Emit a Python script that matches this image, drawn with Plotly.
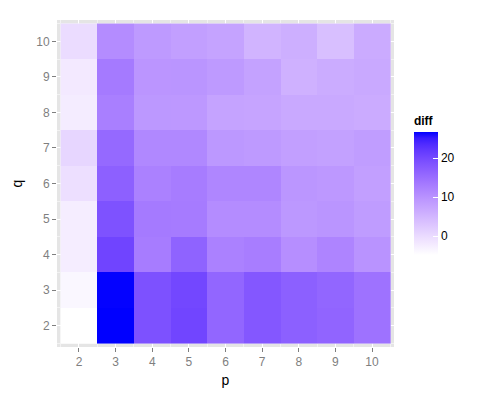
import numpy as np
import plotly.graph_objects as go

# p en q waarden (kolommen / rijen)
p_vals = [2, 3, 4, 5, 6, 7, 8, 9, 10]
q_vals = [2, 3, 4, 5, 6, 7, 8, 9, 10]

# diff per rij q (van q=2 tot q=10), kolommen p=2..10
diff_q2 = [-4.7, 26.8, 19.0, 20.5, 16.2, 18.2, 17.0, 16.4, 14.5]
diff_q3 = [-3.6, 26.7, 19.1, 20.2, 16.2, 18.2, 17.0, 16.2, 14.5]
diff_q4 = [-2.4, 20.6, 13.1, 16.6, 12.5, 13.0, 10.6, 12.0, 10.0]
diff_q5 = [-2.3, 18.9, 13.4, 13.3, 10.9, 10.9, 9.4, 9.8, 8.8]
diff_q6 = [-0.4, 16.9, 12.5, 13.1, 11.8, 11.8, 9.6, 9.3, 8.3]
diff_q7 = [0.8, 15.8, 11.5, 11.5, 9.4, 9.0, 8.3, 8.0, 8.6]
diff_q8 = [-2.2, 12.8, 9.4, 9.3, 7.7, 7.6, 6.9, 6.9, 6.6]
diff_q9 = [-1.8, 13.4, 9.7, 9.8, 9.1, 7.9, 5.8, 6.5, 6.9]
diff_q10 = [0.0, 10.9, 9.1, 8.3, 7.7, 5.4, 6.1, 3.9, 6.6]

z = [diff_q2, diff_q3, diff_q4, diff_q5, diff_q6, diff_q7, diff_q8, diff_q9, diff_q10]

colorbar_ticks = [0, 10, 20]


# Kleurschaal wit -> blauw, geinterpoleerd in Lab (zoals ggplot)
def srgb_to_lab(rgb):
    c = np.array(rgb) / 255.0
    c = np.where(c > 0.04045, ((c + 0.055) / 1.055) ** 2.4, c / 12.92)
    m = np.array([[0.4124, 0.3576, 0.1805],
                  [0.2126, 0.7152, 0.0722],
                  [0.0193, 0.1192, 0.9505]])
    xyz = m @ c / np.array([0.95047, 1.0, 1.08883])
    f = np.where(xyz > 0.008856, np.cbrt(xyz), 7.787 * xyz + 16 / 116)
    return np.array([116 * f[1] - 16, 500 * (f[0] - f[1]), 200 * (f[1] - f[2])])


def lab_to_srgb(lab):
    L, a, b = lab
    fy = (L + 16) / 116
    f = np.array([fy + a / 500, fy, fy - b / 200])
    xyz = np.where(f ** 3 > 0.008856, f ** 3, (f - 16 / 116) / 7.787)
    xyz = xyz * np.array([0.95047, 1.0, 1.08883])
    m = np.array([[3.2406, -1.5372, -0.4986],
                  [-0.9689, 1.8758, 0.0415],
                  [0.0557, -0.2040, 1.0570]])
    c = np.clip(m @ xyz, 0, 1)
    c = np.where(c > 0.0031308, 1.055 * c ** (1 / 2.4) - 0.055, 12.92 * c)
    return 'rgb(%d,%d,%d)' % tuple(np.round(np.clip(c, 0, 1) * 255))


lab_low = srgb_to_lab([255, 255, 255])
lab_high = srgb_to_lab([0, 0, 255])
colorscale = [[t, lab_to_srgb(lab_low + t * (lab_high - lab_low))]
              for t in np.linspace(0, 1, 21)]

zmin = min(min(r) for r in z)
zmax = max(max(r) for r in z)

fig = go.Figure(data=[
    go.Heatmap(
        x=p_vals, y=q_vals, z=z,
        zmin=zmin, zmax=zmax,
        colorscale=colorscale,
        colorbar=dict(
            title=dict(text='<b>diff</b>', side='top',
                       font=dict(size=12, color='black')),
            tickvals=colorbar_ticks,
            ticks='inside', ticklen=5, tickcolor='white',
            tickfont=dict(size=12, color='black'),
            thickness=24, len=142, lenmode='pixels',
            x=1.059, xanchor='left', y=0.50, yanchor='middle',
            xpad=0, ypad=0, outlinewidth=0,
        ),
        hoverongaps=False,
    )
])

axis_style = dict(
    tickmode='array',
    tickvals=p_vals,
    range=[1.4, 10.6],
    showgrid=True, gridcolor='white', gridwidth=1,
    minor=dict(tickmode='linear', tick0=1.5, dtick=1,
               showgrid=True, gridcolor='#f2f2f2', gridwidth=0.5),
    ticks='outside', ticklen=4, tickcolor='#7f7f7f', tickwidth=1,
    tickfont=dict(size=12, color='#7f7f7f'),
    zeroline=False, showline=False, automargin=False,
)

# de pagina heeft 8px body-marge, daarom marges iets verschoven
fig.update_layout(
    xaxis=dict(axis_style, title=dict(text='p', font=dict(size=14, color='black'), standoff=6)),
    yaxis=dict(axis_style, title=dict(text='q', font=dict(size=14, color='black'), standoff=10)),
    font=dict(family='Liberation Sans, Arial, sans-serif'),
    plot_bgcolor='#e5e5e5',
    paper_bgcolor='white',
    width=500, height=400,
    margin=dict(l=49, r=114, t=12, b=61),
)

fig.write_html("out.html")
